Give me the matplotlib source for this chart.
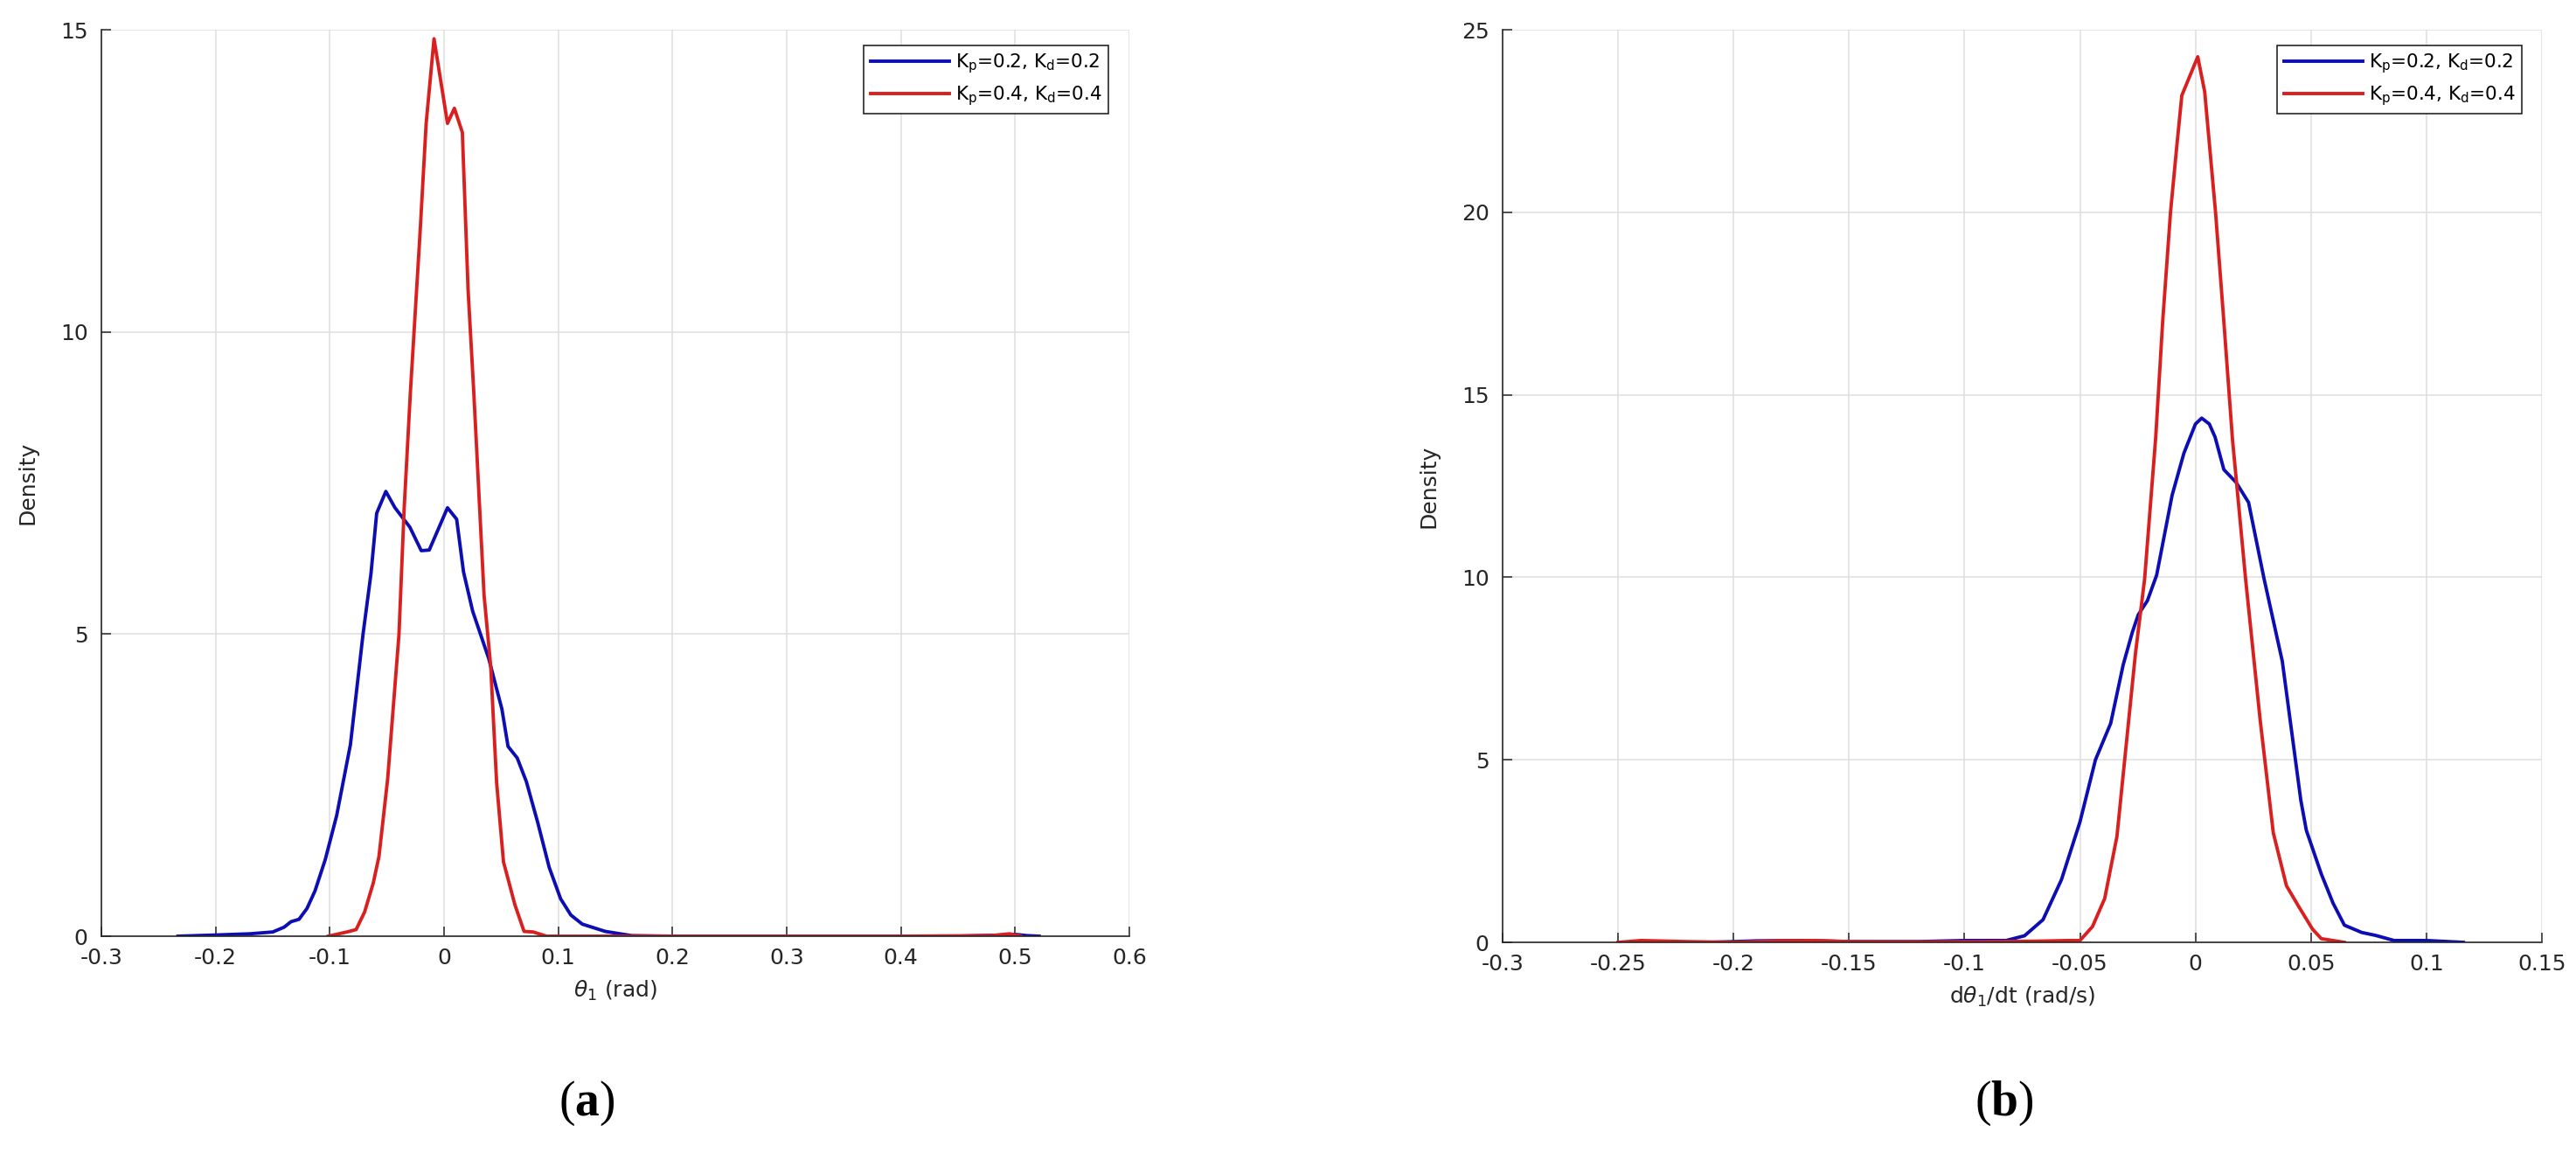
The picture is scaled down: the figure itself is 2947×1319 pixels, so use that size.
import matplotlib
matplotlib.use('Agg')
import matplotlib.pyplot as plt

plt.rcParams['font.family'] = ['DejaVu Sans']
plt.rcParams['mathtext.fontset'] = 'custom'
plt.rcParams['mathtext.rm'] = 'DejaVu Sans'
plt.rcParams['mathtext.it'] = 'DejaVu Sans:italic'
plt.rcParams['mathtext.bf'] = 'Liberation Serif:bold'

# --- data ---
# (a) theta_1 density
a_blue_x = [-0.233, -0.2, -0.17, -0.15, -0.14, -0.134, -0.127, -0.12, -0.113, -0.104,
            -0.094, -0.082, -0.071, -0.064, -0.059, -0.051, -0.043, -0.030, -0.020, -0.013,
            0.003, 0.011, 0.017, 0.025, 0.039, 0.0506, 0.056, 0.064, 0.072, 0.082,
            0.092, 0.102, 0.111, 0.121, 0.141, 0.164, 0.2, 0.3, 0.45, 0.49, 0.5, 0.51, 0.521]
a_blue_y = [0.0, 0.02, 0.04, 0.07, 0.15, 0.24, 0.28, 0.46, 0.75, 1.27,
            2.0, 3.17, 4.99, 6.0, 7.0, 7.36, 7.09, 6.77, 6.38, 6.39,
            7.09, 6.9, 6.03, 5.38, 4.6, 3.76, 3.14, 2.95, 2.56, 1.88,
            1.14, 0.62, 0.35, 0.2, 0.08, 0.01, 0.0, 0.0, 0.0, 0.02, 0.03, 0.01, 0.0]
a_red_x = [-0.1015, -0.085, -0.077, -0.0696, -0.062, -0.057, -0.0494, -0.0395, -0.035, -0.0295,
           -0.021, -0.0157, -0.0088, 0.003, 0.009, 0.016, 0.021, 0.026, 0.035, 0.0408,
           0.046, 0.052, 0.062, 0.070, 0.078, 0.0897, 0.2, 0.4, 0.48, 0.495, 0.505]
a_red_y = [0.0, 0.07, 0.11, 0.4, 0.88, 1.32, 2.6, 4.99, 7.06, 9.0,
           11.65, 13.45, 14.85, 13.45, 13.7, 13.3, 10.7, 9.0, 5.64, 4.47,
           2.54, 1.23, 0.52, 0.08, 0.07, 0.0, 0.0, 0.0, 0.01, 0.04, 0.0]

# (b) d theta_1 / dt density
b_blue_x = [-0.21, -0.19, -0.17, -0.15, -0.12, -0.1, -0.09, -0.082, -0.074, -0.066,
            -0.058, -0.050, -0.0433, -0.0367, -0.0313, -0.0274, -0.0248, -0.0208, -0.0168, -0.0101,
            -0.005, 0.0, 0.0027, 0.006, 0.0085, 0.0123, 0.0176, 0.023, 0.0297, 0.0376,
            0.0456, 0.048, 0.0545, 0.0596, 0.0645, 0.072, 0.078, 0.086, 0.1, 0.116]
b_blue_y = [0.0, 0.04, 0.05, 0.02, 0.02, 0.05, 0.05, 0.05, 0.18, 0.62,
            1.72, 3.3, 5.0, 6.0, 7.6, 8.48, 8.97, 9.36, 10.06, 12.25,
            13.4, 14.2, 14.36, 14.2, 13.84, 12.95, 12.6, 12.05, 9.96, 7.7,
            3.9, 3.07, 1.87, 1.07, 0.47, 0.27, 0.19, 0.05, 0.05, 0.0]
b_red_x = [-0.25, -0.24, -0.22, -0.2, -0.18, -0.165, -0.15, -0.12, -0.09, -0.07,
           -0.055, -0.050, -0.0446, -0.0393, -0.034, -0.030, -0.026, -0.022, -0.0172, -0.0142,
           -0.0108, -0.0081, -0.0059, 0.001, 0.004, 0.0087, 0.0123, 0.016, 0.0217, 0.028,
           0.0337, 0.0394, 0.045, 0.0507, 0.0545, 0.0645]
b_red_y = [0.0, 0.05, 0.02, 0.0, 0.04, 0.05, 0.02, 0.01, 0.02, 0.03,
           0.05, 0.05, 0.43, 1.2, 2.9, 5.4, 7.9, 9.96, 13.84, 17.0,
           20.0, 21.8, 23.2, 24.26, 23.3, 20.0, 17.0, 13.8, 9.96, 6.1,
           3.0, 1.55, 0.95, 0.36, 0.1, 0.0]

labels = [r'K$_\mathregular{p}$=0.2, K$_\mathregular{d}$=0.2',
          r'K$_\mathregular{p}$=0.4, K$_\mathregular{d}$=0.4']

a_xticks = [-0.3, -0.2, -0.1, 0, 0.1, 0.2, 0.3, 0.4, 0.5, 0.6]
a_xlabels = ['-0.3', '-0.2', '-0.1', '0', '0.1', '0.2', '0.3', '0.4', '0.5', '0.6']
a_yticks = [0, 5, 10, 15]
b_xticks = [-0.3, -0.25, -0.2, -0.15, -0.1, -0.05, 0, 0.05, 0.1, 0.15]
b_xlabels = ['-0.3', '-0.25', '-0.2', '-0.15', '-0.1', '-0.05', '0', '0.05', '0.1', '0.15']
b_yticks = [0, 5, 10, 15, 20, 25]

blue = '#0d0db4'
red = '#d92020'

fig = plt.figure(figsize=(29.47, 13.19), dpi=100)
ax1 = fig.add_axes([0.03936, 0.18802, 0.3991, 0.7862])
ax2 = fig.add_axes([0.5833, 0.18271, 0.40346, 0.7915])


def style(ax, xt, xl, yt, xlim, ylim, xlabel, anchor):
    ax.set_xlim(xlim)
    ax.set_ylim(ylim)
    ax.set_xticks(xt)
    ax.set_xticklabels(xl)
    ax.set_yticks(yt)
    ax.grid(True, color='#dedede', linewidth=1.1)
    ax.set_axisbelow(True)
    for s in ['top', 'right']:
        ax.spines[s].set_visible(False)
    for s in ['left', 'bottom']:
        ax.spines[s].set_color('#262626')
        ax.spines[s].set_linewidth(1.2)
    ax.tick_params(direction='in', length=8, width=1.1, color='#262626',
                   labelsize=18, labelcolor='#262626')
    ax.tick_params(axis='x', pad=9)
    ax.tick_params(axis='y', pad=11)
    ax.set_xlabel(xlabel, fontsize=18, color='#262626', labelpad=9)
    ax.set_ylabel('Density', fontsize=18, color='#262626', labelpad=18)
    leg = ax.legend(loc='upper right', bbox_to_anchor=anchor, borderaxespad=0,
                    fontsize=15.5, fancybox=False, framealpha=1, edgecolor='#262626',
                    handlelength=4.2, handletextpad=0.3, labelspacing=0.45,
                    borderpad=0.35)
    leg.get_frame().set_linewidth(1.2)


ax1.plot(a_blue_x, a_blue_y, color=blue, lw=2.8, label=labels[0])
ax1.plot(a_red_x, a_red_y, color=red, lw=2.8, label=labels[1])
style(ax1, a_xticks, a_xlabels, a_yticks, (-0.3, 0.6), (0, 15),
      r'$\theta_1$ (rad)', (0.9796, 0.9826))

ax2.plot(b_blue_x, b_blue_y, color=blue, lw=2.8, label=labels[0])
ax2.plot(b_red_x, b_red_y, color=red, lw=2.8, label=labels[1])
style(ax2, b_xticks, b_xlabels, b_yticks, (-0.3, 0.15), (0, 25),
      r'd$\theta_1$/dt (rad/s)', (0.9807, 0.9828))

fig.text(0.2277, 0.043, r'($\mathbf{a}$)', fontsize=40, family='Liberation Serif',
         ha='center', va='center')
fig.text(0.7781, 0.043, r'($\mathbf{b}$)', fontsize=40, family='Liberation Serif',
         ha='center', va='center')

fig.savefig('out.png', dpi=100)
